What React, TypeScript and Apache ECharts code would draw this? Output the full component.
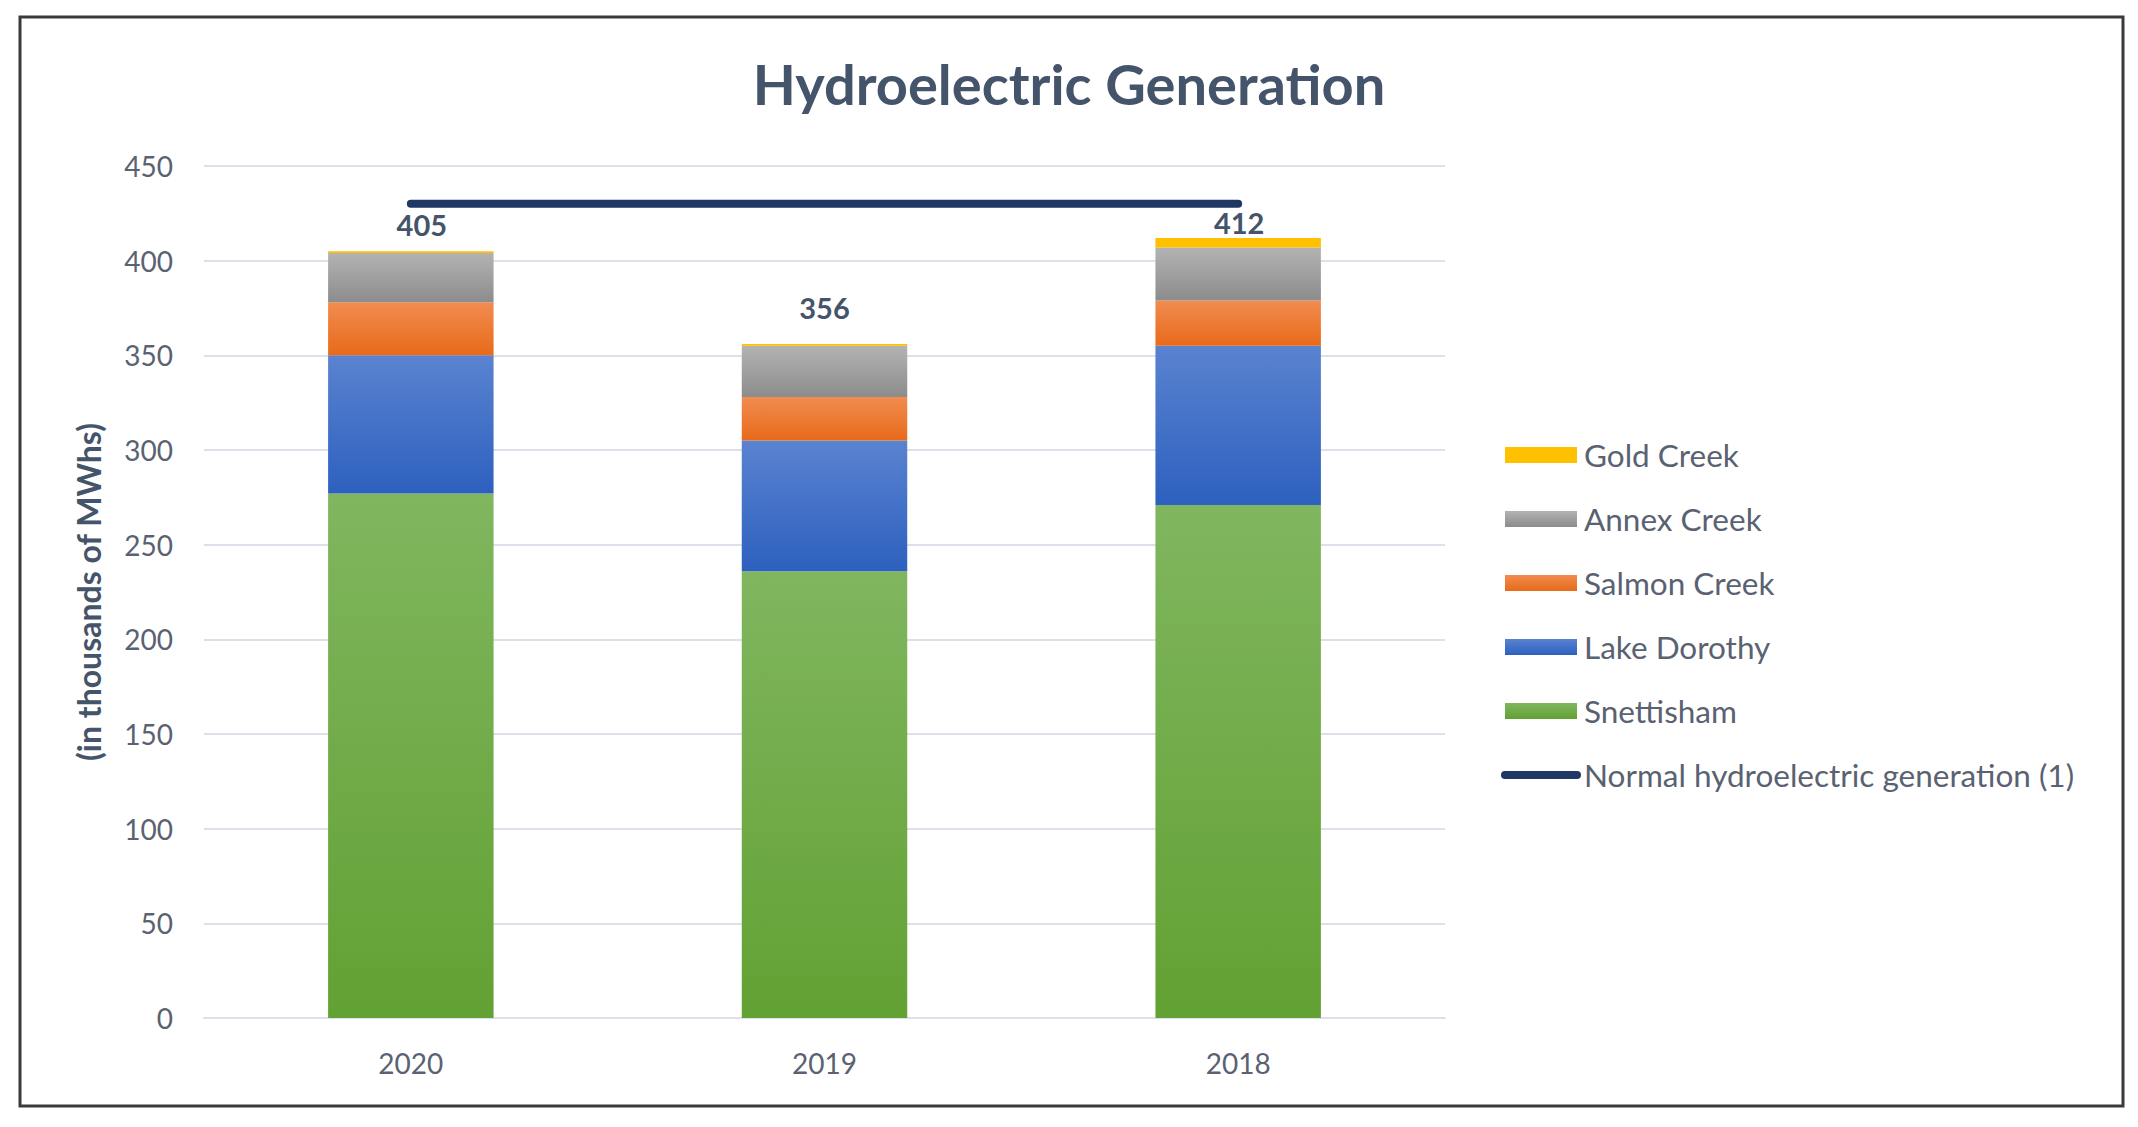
import React, { useEffect, useRef } from "react";
import * as echarts from "echarts";

const categories = ["2020", "2019", "2018"];
const snettisham = [277, 236, 271];
const lakeDorothy = [73, 69, 84];
const salmonCreek = [28, 23, 24];
const annexCreek = [26, 27, 28];
const goldCreek = [1, 1, 5];
const normalGeneration = [430, 430, 430];
const yMin = 0;
const yMax = 450;
const yInterval = 50;

const labelDistances = [12, 22, 1];
const labelShiftX = [11, 0, 1];

const FONT = "Lato";

function grad(top: string, bottom: string) {
  return new echarts.graphic.LinearGradient(0, 0, 0, 1, [
    { offset: 0, color: top },
    { offset: 1, color: bottom },
  ]);
}

export default function App() {
  const ref = useRef<HTMLDivElement>(null);
  useEffect(() => {
    if (!ref.current) return;
    const chart = echarts.init(ref.current, undefined, { renderer: "svg" });
    const totals = categories.map(
      (_, i) => snettisham[i] + lakeDorothy[i] + salmonCreek[i] + annexCreek[i] + goldCreek[i]
    );
    const barCommon = {
      type: "bar",
      stack: "total",
      barWidth: "40%",
    };
    chart.setOption({
      animation: false,
      backgroundColor: "#ffffff",
      title: {
        text: "Hydroelectric Generation",
        left: "center",
        top: 50,
        textStyle: {
          fontFamily: FONT,
          fontWeight: "bold",
          fontSize: 56,
          color: "#44546A",
        },
      },
      graphic: [
        {
          type: "rect",
          shape: { x: 20, y: 17, width: 2103, height: 1089 },
          style: { fill: "none", stroke: "#3a3a3a", lineWidth: 3 },
          silent: true,
        },
      ],
      grid: { left: 204, right: 693, top: 166, bottom: 109 },
      legend: {
        orient: "vertical",
        left: 1501,
        top: 438,
        itemWidth: 72,
        itemHeight: 16,
        itemGap: 30,
        padding: 0,
        textStyle: { fontFamily: FONT, fontSize: 31.5, color: "#5A6272", lineHeight: 34, padding: [0, 0, 0, 2] },
        data: [
          { name: "Gold Creek", icon: "rect" },
          { name: "Annex Creek", icon: "rect" },
          { name: "Salmon Creek", icon: "rect" },
          { name: "Lake Dorothy", icon: "rect" },
          { name: "Snettisham", icon: "rect" },
          {
            name: "Normal hydroelectric generation (1)",
            lineStyle: { width: 8, cap: "round", color: "#203864" },
            itemStyle: { opacity: 0 },
          },
        ],
      },
      xAxis: {
        type: "category",
        data: categories,
        axisLine: { show: true, lineStyle: { color: "#DCE0E8", width: 2 } },
        axisTick: { show: false },
        axisLabel: { fontFamily: FONT, fontSize: 28, color: "#5A6272", margin: 31 },
      },
      yAxis: {
        type: "value",
        min: yMin,
        max: yMax,
        interval: yInterval,
        name: "(in thousands of MWhs)",
        nameLocation: "middle",
        nameGap: 100,
        nameRotate: 90,
        nameTextStyle: { fontFamily: FONT, fontWeight: "bold", fontSize: 32, color: "#44546A" },
        axisLine: { show: false },
        axisTick: { show: false },
        axisLabel: { fontFamily: FONT, fontSize: 28, color: "#5A6272", margin: 31 },
        splitLine: { lineStyle: { color: "#DCE0E8", width: 2 } },
      },
      series: [
        {
          ...barCommon,
          name: "Snettisham",
          data: snettisham,
          itemStyle: { color: grad("#80B65F", "#62A133") },
        },
        {
          ...barCommon,
          name: "Lake Dorothy",
          data: lakeDorothy,
          itemStyle: { color: grad("#5A83D0", "#2D60BF") },
        },
        {
          ...barCommon,
          name: "Salmon Creek",
          data: salmonCreek,
          itemStyle: { color: grad("#F18C50", "#E86A1A") },
        },
        {
          ...barCommon,
          name: "Annex Creek",
          data: annexCreek,
          itemStyle: { color: grad("#B3B3B3", "#8C8C8C") },
        },
        {
          ...barCommon,
          name: "Gold Creek",
          data: goldCreek.map((v, i) => ({
            value: v,
            label: {
              show: true,
              position: "top",
              distance: labelDistances[i],
              offset: [labelShiftX[i], 0],
              formatter: String(totals[i]),
              fontFamily: FONT,
              fontWeight: "bold",
              fontSize: 29,
              color: "#44546A",
            },
          })),
          itemStyle: { color: "#FFC000" },
        },
        {
          type: "line",
          name: "Normal hydroelectric generation (1)",
          data: normalGeneration,
          symbol: "none",
          z: 5,
          lineStyle: { color: "#203864", width: 8, cap: "round" },
          itemStyle: { color: "#203864" },
        },
      ],
    });
    return () => chart.dispose();
  }, []);
  return (
    <div
      ref={ref}
      style={{ position: "fixed", left: 0, top: 0, width: 2138, height: 1127 }}
    />
  );
}
